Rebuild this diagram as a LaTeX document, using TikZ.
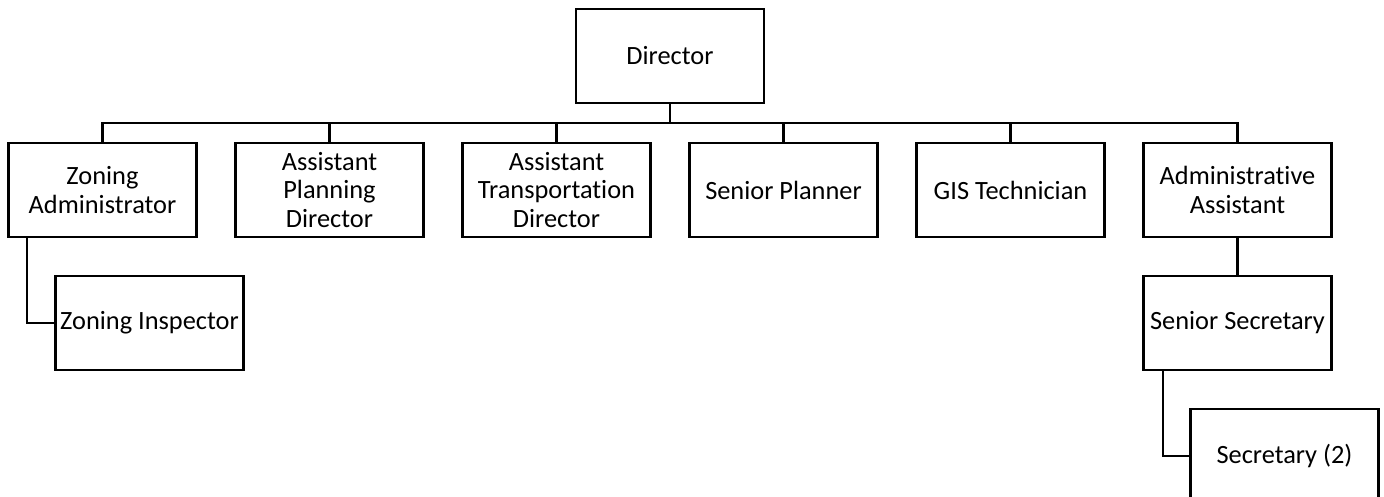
\documentclass[tikz,border=0pt]{standalone}
\usepackage{fontspec}
\setmainfont[Ligatures={NoCommon}]{Carlito}
\usepackage{tikz}
\usetikzlibrary{
  positioning,
  calc
}
\usepackage{xcolor}
\tikzset{
  post/.style={
    rectangle, draw=black, line width=1.2pt, fill=white,
    minimum width=3.76cm, minimum height=1.88cm,
    inner sep=2pt, outer sep=0pt, align=center,
    font=\fontsize{15}{16.2}\selectfont
  },
  link/.style={line width=1.2pt, draw=black}
}

\begin{document}
\begin{tikzpicture}[node distance=0.8cm and 0.78cm]

    \clip (0,0) rectangle (27.68,-9.92);

    %% ---- Top: Director ---------------------------------------------
    \node[post] (dir) at (13.40,-1.12) {Director};

    %% ---- Second row: direct reports ---------------------------------
    \node[post, below=0.8cm of dir, xshift=-2.27cm] (atd) {Assistant\\Transportation\\Director};
    \node[post, left=of atd]  (apd) {Assistant\\Planning\\Director};
    \node[post, left=of apd]  (za)  {Zoning\\Administrator};
    \node[post, right=of atd] (sp)  {Senior Planner};
    \node[post, right=of sp]  (gis) {GIS Technician};
    \node[post, right=of gis] (aa)  {Administrative\\Assistant};

    \draw[link] (dir.south) -- ++(0,-0.4) coordinate (bus);
    \foreach \n in {za,apd,atd,sp,gis,aa}{
      \draw[link] (bus) -| (\n.north);
    }

    %% ---- Third row ---------------------------------------------------
    \node[post, below=0.78cm of za, xshift=0.94cm] (zi) {Zoning Inspector};
    \node[post, below=0.78cm of aa]                (ss) {Senior Secretary};
    \node[post, below=0.78cm of ss, xshift=0.94cm] (sec) {Secretary (2)};

    \draw[link] ([xshift=0.37cm]za.south west) |- (zi);
    \draw[link] (aa) -- (ss);
    \draw[link] ([xshift=0.39cm]ss.south west) |- (sec);

  \end{tikzpicture}
\end{document}
